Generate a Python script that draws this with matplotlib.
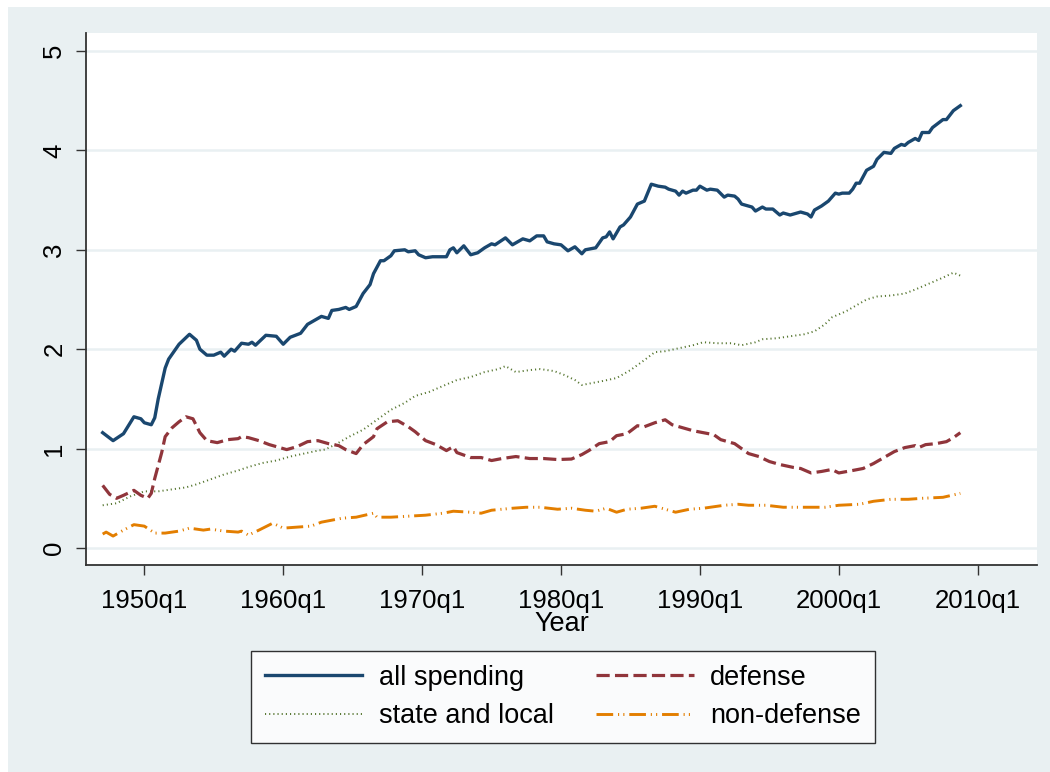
import matplotlib
matplotlib.use("Agg")
import matplotlib.pyplot as plt
from matplotlib.patches import Rectangle

plt.rcParams['font.family'] = ['Liberation Sans', 'DejaVu Sans']
plt.rcParams['lines.scale_dashes'] = False

# ---- data (x = year + (quarter-1)/4) ----
all_years = [1947.00, 1947.75, 1948.50, 1949.25, 1949.75, 1950.00, 1950.50, 1950.75, 1951.00, 1951.50,
             1951.75, 1952.25, 1952.50, 1953.25, 1953.75, 1954.00, 1954.50, 1955.00, 1955.50, 1955.75,
             1956.25, 1956.50, 1957.00, 1957.50, 1957.75, 1958.00, 1958.75, 1959.50, 1960.00, 1960.50,
             1961.25, 1961.75, 1962.25, 1962.75, 1963.25, 1963.50, 1964.00, 1964.50, 1964.75, 1965.25,
             1965.75, 1966.25, 1966.50, 1967.00, 1967.25, 1967.75, 1968.00, 1968.75, 1969.00, 1969.50,
             1969.75, 1970.25, 1970.75, 1971.25, 1971.75, 1972.00, 1972.25, 1972.50, 1973.00, 1973.50,
             1974.00, 1974.50, 1975.00, 1975.25, 1976.00, 1976.50, 1977.25, 1977.75, 1978.25, 1978.75,
             1979.00, 1979.50, 1980.00, 1980.50, 1981.00, 1981.50, 1981.75, 1982.50, 1983.00, 1983.25,
             1983.50, 1983.75, 1984.25, 1984.50, 1985.00, 1985.50, 1986.00, 1986.50, 1987.00, 1987.50,
             1987.75, 1988.25, 1988.50, 1988.75, 1989.00, 1989.50, 1989.75, 1990.00, 1990.50, 1990.75,
             1991.25, 1991.75, 1992.00, 1992.50, 1992.75, 1993.00, 1993.75, 1994.00, 1994.50, 1994.75,
             1995.25, 1995.75, 1996.00, 1996.50, 1997.25, 1997.75, 1998.00, 1998.25, 1998.75, 1999.25,
             1999.75, 2000.00, 2000.25, 2000.75, 2001.00, 2001.25, 2001.50, 2002.00, 2002.50, 2002.75,
             2003.25, 2003.75, 2004.00, 2004.50, 2004.75, 2005.00, 2005.50, 2005.75, 2006.00, 2006.50,
             2006.75, 2007.50, 2007.75, 2008.25, 2008.75]
all_spending = [1.16, 1.08, 1.15, 1.32, 1.30, 1.26, 1.24, 1.31, 1.50, 1.81,
                1.90, 2.00, 2.05, 2.15, 2.09, 2.00, 1.94, 1.94, 1.97, 1.93,
                2.00, 1.98, 2.06, 2.05, 2.07, 2.04, 2.14, 2.13, 2.05, 2.12,
                2.16, 2.25, 2.29, 2.33, 2.31, 2.39, 2.40, 2.42, 2.40, 2.43,
                2.56, 2.65, 2.76, 2.89, 2.89, 2.94, 2.99, 3.00, 2.98, 2.99,
                2.95, 2.92, 2.93, 2.93, 2.93, 3.00, 3.02, 2.97, 3.04, 2.95,
                2.97, 3.02, 3.06, 3.05, 3.12, 3.05, 3.11, 3.09, 3.14, 3.14,
                3.08, 3.06, 3.05, 2.99, 3.03, 2.96, 3.00, 3.02, 3.12, 3.13,
                3.18, 3.11, 3.23, 3.25, 3.33, 3.46, 3.49, 3.66, 3.64, 3.63,
                3.61, 3.59, 3.55, 3.59, 3.57, 3.60, 3.60, 3.64, 3.60, 3.61,
                3.60, 3.53, 3.55, 3.54, 3.51, 3.46, 3.43, 3.39, 3.43, 3.41,
                3.41, 3.35, 3.37, 3.35, 3.38, 3.36, 3.33, 3.40, 3.44, 3.49,
                3.57, 3.56, 3.57, 3.57, 3.61, 3.67, 3.67, 3.80, 3.84, 3.91,
                3.98, 3.97, 4.02, 4.06, 4.05, 4.08, 4.12, 4.10, 4.18, 4.18,
                4.23, 4.31, 4.31, 4.40, 4.45]

def_years = [1947.00, 1947.50, 1948.00, 1948.50, 1949.25, 1949.75, 1950.25, 1950.50, 1950.75, 1951.25,
             1951.50, 1952.00, 1952.50, 1953.00, 1953.50, 1954.00, 1954.50, 1955.25, 1956.00, 1956.75,
             1957.00, 1957.50, 1958.25, 1959.00, 1959.50, 1960.25, 1961.00, 1961.75, 1962.50, 1963.25,
             1964.00, 1964.50, 1965.25, 1965.75, 1966.50, 1966.75, 1967.50, 1968.25, 1969.00, 1969.50,
             1970.25, 1971.00, 1971.75, 1972.25, 1972.50, 1973.50, 1974.25, 1975.00, 1975.75, 1976.75,
             1977.75, 1978.75, 1979.75, 1980.75, 1981.50, 1982.00, 1982.75, 1983.50, 1984.00, 1984.75,
             1985.50, 1986.00, 1986.75, 1987.50, 1988.00, 1988.75, 1989.50, 1990.25, 1991.00, 1991.50,
             1992.50, 1993.00, 1993.50, 1994.25, 1995.00, 1995.75, 1996.75, 1997.25, 1998.00, 1998.75,
             1999.50, 2000.00, 2001.00, 2001.75, 2002.50, 2003.25, 2004.00, 2004.75, 2005.50, 2005.75,
             2006.25, 2007.00, 2007.75, 2008.25, 2008.75]
defense = [0.63, 0.54, 0.50, 0.53, 0.58, 0.53, 0.50, 0.55, 0.70, 0.96,
           1.12, 1.21, 1.27, 1.32, 1.30, 1.16, 1.08, 1.06, 1.09, 1.10,
           1.12, 1.11, 1.08, 1.04, 1.02, 0.99, 1.02, 1.07, 1.08, 1.05,
           1.03, 0.99, 0.95, 1.04, 1.12, 1.20, 1.27, 1.28, 1.22, 1.17,
           1.08, 1.04, 0.98, 1.02, 0.96, 0.91, 0.91, 0.88, 0.90, 0.92,
           0.90, 0.90, 0.89, 0.895, 0.94, 0.98, 1.05, 1.07, 1.13, 1.15,
           1.23, 1.22, 1.26, 1.29, 1.24, 1.21, 1.18, 1.16, 1.14, 1.09,
           1.05, 1.00, 0.95, 0.92, 0.87, 0.84, 0.81, 0.80, 0.755, 0.77,
           0.79, 0.755, 0.78, 0.80, 0.85, 0.91, 0.97, 1.01, 1.03, 1.01,
           1.04, 1.05, 1.07, 1.11, 1.16]

sl_years = [1947.00, 1948.00, 1949.00, 1950.00, 1951.00, 1952.00, 1953.00, 1953.75, 1954.75, 1955.75,
            1956.75, 1957.50, 1958.50, 1959.50, 1960.50, 1961.50, 1962.50, 1963.00, 1963.75, 1964.75,
            1965.75, 1966.75, 1967.75, 1968.75, 1969.50, 1970.50, 1971.50, 1972.50, 1973.50, 1974.50,
            1975.50, 1976.00, 1976.75, 1977.75, 1978.50, 1979.50, 1980.25, 1981.00, 1981.50, 1982.25,
            1983.00, 1984.00, 1985.00, 1986.00, 1986.75, 1987.50, 1988.50, 1989.50, 1990.25, 1991.25,
            1992.25, 1993.00, 1994.00, 1994.50, 1995.50, 1996.50, 1997.50, 1998.25, 1999.00, 1999.50,
            2000.50, 2001.25, 2002.00, 2002.75, 2003.75, 2004.75, 2005.50, 2006.50, 2007.50, 2008.25,
            2008.75]
state_local = [0.43, 0.45, 0.52, 0.57, 0.57, 0.59, 0.61, 0.64, 0.69, 0.74,
               0.78, 0.815, 0.855, 0.88, 0.92, 0.95, 0.98, 0.99, 1.04, 1.12,
               1.19, 1.29, 1.39, 1.46, 1.53, 1.57, 1.63, 1.69, 1.72, 1.77,
               1.80, 1.83, 1.77, 1.79, 1.80, 1.78, 1.74, 1.69, 1.64, 1.66,
               1.68, 1.71, 1.79, 1.89, 1.97, 1.98, 2.01, 2.04, 2.07, 2.06,
               2.06, 2.04, 2.07, 2.10, 2.11, 2.13, 2.15, 2.18, 2.25, 2.32,
               2.38, 2.44, 2.50, 2.53, 2.54, 2.56, 2.60, 2.66, 2.72, 2.77,
               2.74]

nd_years = [1947.00, 1947.25, 1947.75, 1948.50, 1949.25, 1950.00, 1950.75, 1951.50, 1952.50, 1953.25,
            1954.25, 1954.75, 1955.75, 1956.75, 1957.00, 1957.50, 1958.25, 1959.25, 1960.00, 1961.00,
            1962.00, 1962.75, 1964.25, 1965.25, 1966.50, 1966.75, 1967.75, 1969.00, 1970.25, 1971.50,
            1972.25, 1973.50, 1974.25, 1975.00, 1976.50, 1977.50, 1978.50, 1979.75, 1980.75, 1981.75,
            1982.50, 1983.25, 1984.00, 1984.75, 1985.75, 1986.75, 1987.50, 1988.25, 1989.25, 1990.25,
            1991.75, 1992.75, 1993.50, 1994.75, 1996.00, 1997.50, 1999.00, 2000.00, 2001.50, 2002.50,
            2003.75, 2005.00, 2006.00, 2007.50, 2008.75]
non_defense = [0.14, 0.16, 0.12, 0.18, 0.235, 0.22, 0.15, 0.15, 0.17, 0.20,
               0.18, 0.19, 0.17, 0.16, 0.17, 0.13, 0.18, 0.25, 0.20, 0.21,
               0.22, 0.26, 0.30, 0.31, 0.35, 0.31, 0.31, 0.32, 0.33, 0.35,
               0.37, 0.36, 0.35, 0.38, 0.40, 0.41, 0.41, 0.39, 0.40, 0.38,
               0.37, 0.40, 0.36, 0.39, 0.40, 0.42, 0.39, 0.36, 0.39, 0.40,
               0.43, 0.44, 0.43, 0.43, 0.41, 0.41, 0.41, 0.43, 0.44, 0.47,
               0.49, 0.49, 0.50, 0.51, 0.55]

xtick_pos = [1950, 1960, 1970, 1980, 1990, 2000, 2010]
xtick_labels = ["1950q1", "1960q1", "1970q1", "1980q1", "1990q1", "2000q1", "2010q1"]
ytick_pos = [0, 1, 2, 3, 4, 5]

BG = '#E9F0F2'
FS = 18.5
LFS = 19.5

fig = plt.figure(figsize=(10.5, 7.72), dpi=100, facecolor='white')
fig.patches.append(Rectangle((8 / 1050, 0), 1 - 8 / 1050, 1 - 7 / 772,
                             transform=fig.transFigure, facecolor=BG, edgecolor='none', zorder=-10))

ax = fig.add_axes([86 / 1050, 1 - 565 / 772, (1037 - 86) / 1050, (565 - 33) / 772])
ax.set_facecolor('white')

l1, = ax.plot(all_years, all_spending, color='#1a476f', lw=2.4, solid_joinstyle='round',
              label='all spending', zorder=5)
l2, = ax.plot(def_years, defense, color='#90353b', lw=2.3, dashes=(9.5, 3.8),
              label='defense', zorder=4)
l3, = ax.plot(sl_years, state_local, color='#55752f', lw=1.4, dashes=(0.8, 2.2),
              label='state and local', zorder=3)
l4, = ax.plot(nd_years, non_defense, color='#e37e00', lw=2.1,
              dashes=(12, 3.5, 0.8, 3, 0.8, 3.5), label='non-defense', zorder=3)

ax.set_xlim(1945.8, 2014.27)
ax.set_ylim(-0.171, 5.181)
ax.set_xticks(xtick_pos)
ax.set_xticklabels(xtick_labels)
ax.set_yticks(ytick_pos)
ax.set_yticklabels([str(v) for v in ytick_pos], rotation=90, va='center')
ax.tick_params(axis='both', length=7.2, width=1, color='#333333', labelsize=FS,
               labelcolor='black')
ax.tick_params(axis='x', pad=10)
ax.tick_params(axis='y', pad=7)
ax.yaxis.grid(True, color=BG, lw=1.8, zorder=0)
ax.set_axisbelow(True)
for s in ['top', 'right']:
    ax.spines[s].set_visible(False)
for s in ['left', 'bottom']:
    ax.spines[s].set_color('#333333')
    ax.spines[s].set_linewidth(1.3)

ax.set_xlabel('Year', fontsize=LFS, labelpad=-1.5)

leg = fig.legend([l1, l3, l2, l4], ['all spending', 'state and local', 'defense', 'non-defense'],
                 ncol=2, loc='center', bbox_to_anchor=(563 / 1050, 1 - 697 / 772),
                 fontsize=LFS, frameon=True, fancybox=False, edgecolor='black',
                 handlelength=3.6, handletextpad=0.62, columnspacing=1.55,
                 labelspacing=0.45, borderpad=0.5)
leg.get_frame().set_linewidth(1.0)
leg.get_frame().set_facecolor('white')

fig.savefig('out.png', dpi=100, facecolor=fig.get_facecolor())
